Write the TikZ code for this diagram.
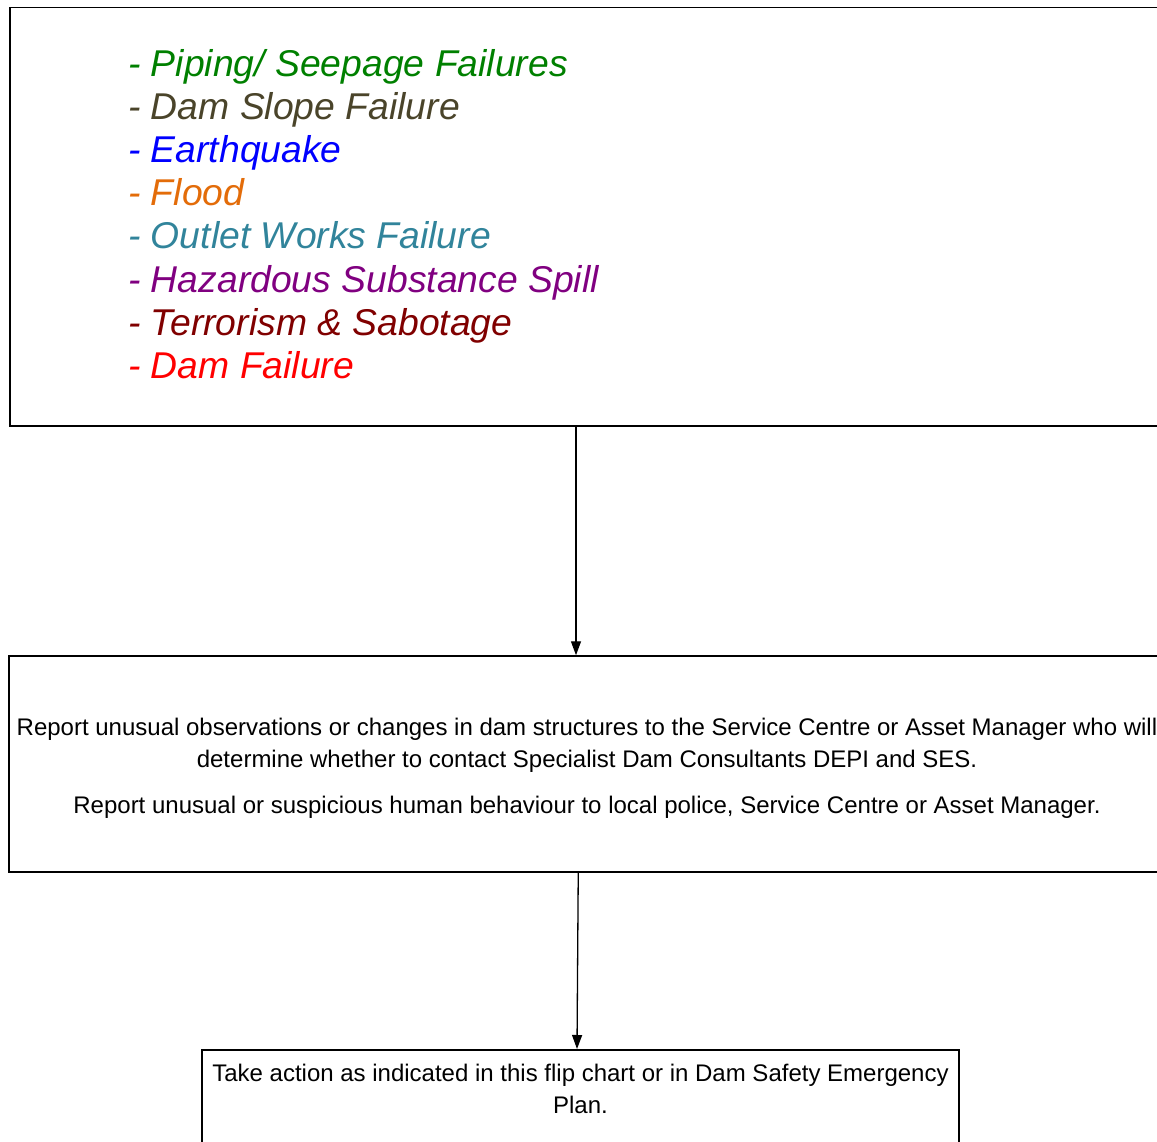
\documentclass[tikz,border=0pt]{standalone}
\usepackage{fontspec}
\setmainfont{Liberation Sans}
\usetikzlibrary{positioning,arrows.meta}
\definecolor{seepgreen}{HTML}{008000}
\definecolor{slopeolive}{HTML}{4A442A}
\definecolor{quakeblue}{HTML}{0000FF}
\definecolor{floodorange}{HTML}{E36C09}
\definecolor{outletteal}{HTML}{31849B}
\definecolor{spillpurple}{HTML}{800080}
\definecolor{terrormaroon}{HTML}{800000}
\definecolor{failred}{HTML}{FF0000}

\begin{document}
\begin{tikzpicture}[x=1pt,y=-1pt]
            \tikzset{
                box/.style={draw,line width=1.5pt,inner sep=0pt},
                arr/.style={line width=1.3pt,-{Triangle[length=14pt,width=10pt]}},
                hazard/.style={anchor=base west,inner sep=0pt,font=\fontsize{37.3}{43}\selectfont\itshape},
                plain/.style={align=center,font=\fontsize{24}{32}\selectfont}}
            \useasboundingbox (0,0) rectangle (1157,1142);
            \clip (0,0) rectangle (1157,1142);
            \node[box,minimum width=1191pt,minimum height=418pt,anchor=north west] (hazards) at (9,7) {};
            \foreach \txt/\col [count=\i] in {{Piping/ Seepage Failures}/seepgreen,{Dam Slope Failure}/slopeolive,
                Earthquake/quakeblue,Flood/floodorange,{Outlet Works Failure}/outletteal,
                {Hazardous Substance Spill}/spillpurple,{Terrorism \& Sabotage}/terrormaroon,{Dam Failure}/failred}
                \node[hazard,text=\col] (hz\i) at (128,{77+43*(\i-1)}) {- \txt};
            \node[box,minimum width=1156pt,minimum height=216pt] (report) at (587,764) {};
            \node[plain,inner sep=0pt] (reporttext) at (587,768)
                {Report unusual observations or changes in dam structures to the Service Centre or Asset Manager who will\\
                determine whether to contact Specialist Dam Consultants DEPI and SES.\\[14pt]
                Report unusual or suspicious human behaviour to local police, Service Centre or Asset Manager.};
            \node[box,minimum width=757pt,minimum height=140pt,anchor=north] (action) at (580.5,1049) {};
            \node[plain,inner sep=0pt,below=15pt of action.north] (actiontext)
                {Take action as indicated in this flip chart or in Dam Safety Emergency\\ Plan.};
            \draw[arr] ([xshift=567pt]hazards.south west) -- ([xshift=567pt]hazards.south west |- report.north);
            \draw[arr] ([xshift=570pt]report.south west) -- ([xshift=-3.5pt]action.north);
            % \draw[red] (0,0) grid[step=100] (1157,1142);
        \end{tikzpicture}
\end{document}
